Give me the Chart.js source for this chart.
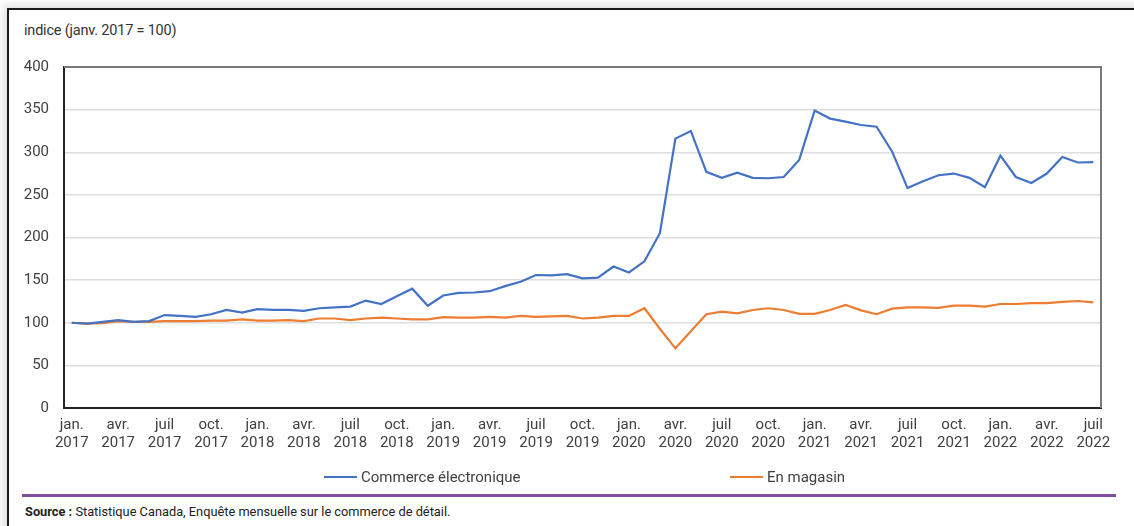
<!DOCTYPE html>
<html lang="fr">
<head>
<meta charset="utf-8">
<title>Commerce électronique et en magasin</title>
<script src="https://cdn.jsdelivr.net/npm/chart.js@4.4.1/dist/chart.umd.min.js"></script>
<style>
  html, body { margin: 0; padding: 0; background: #fff; }
  body { width: 1134px; height: 526px; overflow: hidden; position: relative; font-family: Roboto, "Liberation Sans", sans-serif; }
  #frame {
    position: absolute; left: 7px; top: 8px; width: 1300px; height: 700px;
    border-left: 2px solid #1a1a1a; border-top: 2px solid #1a1a1a;
    box-shadow: -4px -4px 8px rgba(0, 0, 0, 0.12);
  }
  #yTitle { position: absolute; left: 24px; top: 22px; font-size: 14.5px; color: #333; letter-spacing: -0.2px; }
  #chartBox { position: absolute; left: 0; top: 0; width: 1134px; height: 470px; }
  #legend { position: absolute; top: 468px; left: 0; width: 1134px; height: 20px; font-size: 15px; color: #404040; }
  .item { position: absolute; top: 0; line-height: 18px; white-space: nowrap; }
  .swatch { display: inline-block; width: 33px; height: 2px; vertical-align: middle; margin-right: 4px; position: relative; top: -1px; }
  #rule { position: absolute; left: 22px; top: 494px; width: 1094px; height: 3px; background: #7f4f9d; }
  #source { position: absolute; left: 25px; top: 504px; font-size: 12.8px; color: #222; }
</style>
</head>
<body>
<div id="frame"></div>
<div id="yTitle">indice (janv. 2017 = 100)</div>
<div id="chartBox"><canvas id="trend" width="1134" height="470"></canvas></div>
<div id="legend"></div>
<div id="rule"></div>
<div id="source"><b>Source :</b> Statistique Canada, Enquête mensuelle sur le commerce de détail.</div>

<script>
const years = ['2017', '2018', '2019', '2020', '2021', '2022'];
const monthNames = ['jan.', 'févr.', 'mars', 'avr.', 'mai', 'juin', 'juil', 'août', 'sept.', 'oct.', 'nov.', 'déc.'];
const lastMonthCount = 7; // janv. à juil. 2022

const seriesNames = ['Commerce électronique', 'En magasin'];
const seriesColors = ['#4472c4', '#ed7d31'];

const ecommerce = [
  100, 99, 101, 103, 101, 102, 109, 108, 107, 110, 115, 112,
  116, 115, 115, 114, 117, 118, 119, 126, 122, 131, 140, 120,
  132, 135, 135.5, 137, 143, 148, 156, 155.5, 157, 152, 153, 166,
  159, 172, 205, 316, 325, 277, 270, 276, 270, 269.5, 271, 291,
  349, 339.5, 336, 332, 330, 301, 258, 266, 273, 275, 270, 259,
  296, 271, 264, 275, 294.5, 288, 288.5
];
const inStore = [
  100, 99, 99.5, 102, 101, 101, 102, 102, 102, 102.5, 102.5, 104,
  102.5, 102.5, 103, 102, 105, 105, 103, 105, 106, 105, 104, 104,
  106.5, 106, 106, 107, 106, 108, 107, 107.5, 108, 105, 106, 108,
  108, 117, 93, 70, 90, 110, 113, 111, 115, 117, 115, 110.5,
  110.5, 115, 121, 114.5, 110, 116.5, 118, 118, 117.5, 120, 120, 119,
  122, 122, 123, 123, 124.5, 125.5, 124
];

const yMin = 0, yMax = 400, yStep = 50;
const tickEvery = 3; // une étiquette par trimestre

// labels as [mois, année] pairs
const labels = [];
years.forEach((y, yi) => {
  const n = yi === years.length - 1 ? lastMonthCount : 12;
  for (let m = 0; m < n; m++) labels.push([monthNames[m], y]);
});

// gray top and right edges of the plot box
const boxEdges = {
  id: 'boxEdges',
  afterDatasetsDraw(chart) {
    const { ctx, chartArea: a } = chart;
    ctx.save();
    ctx.strokeStyle = '#7a7a7a';
    ctx.lineWidth = 2;
    ctx.beginPath();
    ctx.moveTo(a.left, a.top);
    ctx.lineTo(a.right, a.top);
    ctx.lineTo(a.right, a.bottom);
    ctx.stroke();
    ctx.restore();
  }
};

const tickFont = { family: 'Roboto', size: 15 };

const chart = new Chart(document.getElementById('trend'), {
  type: 'line',
  data: {
    labels: labels,
    datasets: [
      { label: seriesNames[0], data: ecommerce, borderColor: seriesColors[0], borderWidth: 2.2, pointRadius: 0, tension: 0, fill: false },
      { label: seriesNames[1], data: inStore, borderColor: seriesColors[1], borderWidth: 2.2, pointRadius: 0, tension: 0, fill: false }
    ]
  },
  options: {
    responsive: false,
    animation: false,
    devicePixelRatio: 1,
    layout: { padding: { left: 0, top: 67, right: 33, bottom: 0 } },
    plugins: { legend: { display: false }, tooltip: { enabled: false } },
    scales: {
      x: {
        offset: true,
        grid: { display: false, drawTicks: false },
        border: { color: '#222', width: 2 },
        afterFit(scale) { scale.height = 62; },
        ticks: {
          autoSkip: false, maxRotation: 0, minRotation: 0, padding: 8,
          color: '#404040', font: tickFont,
          callback(value, index) { return index % tickEvery === 0 ? labels[index] : ''; }
        }
      },
      y: {
        min: yMin, max: yMax,
        grid: { color: '#dedede', lineWidth: 1.5, drawTicks: false },
        border: { color: '#222', width: 2 },
        afterFit(scale) { scale.width = 64; },
        ticks: { stepSize: yStep, padding: 15, color: '#404040', font: tickFont }
      }
    }
  },
  plugins: [boxEdges]
});

// legend under the chart
const legendSlots = [324, 730];
const legend = document.getElementById('legend');
chart.data.datasets.forEach((ds, i) => {
  const item = document.createElement('div');
  item.className = 'item';
  item.style.left = legendSlots[i] + 'px';
  item.innerHTML = '<span class="swatch" style="background:' + ds.borderColor + '"></span>' + ds.label;
  legend.appendChild(item);
});
</script>
</body>
</html>
